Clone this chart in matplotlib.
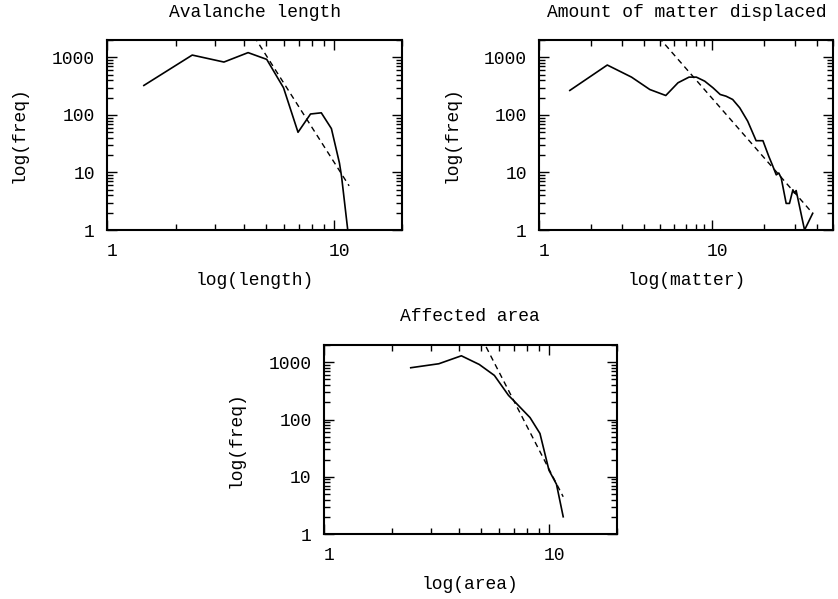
import numpy as np
import matplotlib
matplotlib.use('Agg')
import matplotlib.pyplot as plt
from matplotlib.ticker import LogLocator, FixedLocator, FixedFormatter, NullFormatter
from matplotlib.transforms import ScaledTranslation

plt.rcParams['font.family'] = ['Liberation Mono', 'DejaVu Sans Mono']

# Avalanche length
length_x = [1.45, 2.37, 3.27, 4.18, 5.05, 5.99, 6.94, 7.88, 8.79, 9.74, 10.57, 10.8, 11.5]
length_y = [326, 1100, 832, 1213, 926, 297, 50, 104, 109, 58, 14.6, 8.5, 1.0]
length_fit = (11.66, 5.86, -6.2)   # x_ref, y_ref, exponent
length_fit_range = (4.0, 11.66)

# Amount of matter displaced
matter_x = [1.50, 2.47, 3.41, 4.35, 5.38, 6.33, 7.33, 8.08, 9.03, 10.08, 11.1, 12.0,
            13.1, 14.4, 16.0, 17.9, 19.6, 21.2, 22.2, 23.4, 24.2, 25.0, 26.7, 27.9,
            29.2, 29.8, 30.5, 34.1, 38.0]
matter_y = [267, 738, 455, 277, 218, 363, 455, 455, 387, 297, 227, 212,
            186, 133, 78, 35.7, 35.7, 19, 13.6, 9.1, 9.8, 8.0, 2.9, 2.9,
            5.0, 4.4, 4.85, 1.0, 1.95]
matter_fit = (38.0, 1.95, -3.44)
matter_fit_range = (4.5, 38.0)

# Affected area
area_x = [2.43, 3.24, 4.08, 4.90, 5.72, 6.61, 7.07, 8.24, 9.12, 10.0, 10.8, 11.57]
area_y = [802, 942, 1297, 915, 589, 264, 202, 108, 57, 13, 7.4, 2.0]
area_fit = (11.57, 4.47, -7.64)
area_fit_range = (4.8, 11.57)

fig = plt.figure(figsize=(8.38, 5.99), dpi=100)

panels = [
    ([0.128, 0.616, 0.352, 0.317], length_x, length_y, length_fit, length_fit_range,
     20, 'Avalanche length', 'log(length)'),
    ([0.6436, 0.616, 0.3508, 0.317], matter_x, matter_y, matter_fit, matter_fit_range,
     50, 'Amount of matter displaced', 'log(matter)'),
    ([0.3866, 0.1085, 0.3493, 0.3155], area_x, area_y, area_fit, area_fit_range,
     20, 'Affected area', 'log(area)'),
]

for rect, xs, ys, fit, frange, xmax, title, xlabel in panels:
    ax = fig.add_axes(rect)
    ax.set_xscale('log')
    ax.set_yscale('log')
    ax.plot(xs, ys, color='black', linewidth=1.2)
    xr, yr, k = fit
    fx = np.geomspace(frange[0], frange[1], 50)
    ax.plot(fx, yr * (fx / xr) ** k, color='black', linewidth=1.0, linestyle=(0, (4, 3)))
    ax.set_xlim(1, xmax)
    ax.set_ylim(1, 2000)

    ax.xaxis.set_major_locator(FixedLocator([1, 10]))
    ax.xaxis.set_major_formatter(FixedFormatter(['1', '10']))
    ax.xaxis.set_minor_locator(LogLocator(base=10, subs=np.arange(2, 10)))
    ax.xaxis.set_minor_formatter(NullFormatter())
    ax.yaxis.set_major_locator(FixedLocator([1, 10, 100, 1000]))
    ax.yaxis.set_major_formatter(FixedFormatter(['1', '10', '100', '1000']))
    ax.yaxis.set_minor_locator(LogLocator(base=10, subs=np.arange(2, 10)))
    ax.yaxis.set_minor_formatter(NullFormatter())

    ax.tick_params(which='both', direction='in', top=True, right=True, width=1.0)
    ax.tick_params(which='major', length=7)
    ax.tick_params(which='minor', length=4)
    ax.tick_params(axis='x', which='major', pad=9, labelsize=13)
    ax.tick_params(axis='y', which='major', pad=9, labelsize=13)
    for sp in ax.spines.values():
        sp.set_linewidth(1.5)

    for lab in ax.get_xticklabels():
        lab.set_transform(lab.get_transform() + ScaledTranslation(5 / 100, 0, fig.dpi_scale_trans))

    ax.set_title(title, fontsize=13, pad=17)
    ax.set_xlabel(xlabel, fontsize=13, labelpad=9)
    ax.set_ylabel('log(freq)', fontsize=13, labelpad=17)

fig.savefig('out.png', dpi=100)
